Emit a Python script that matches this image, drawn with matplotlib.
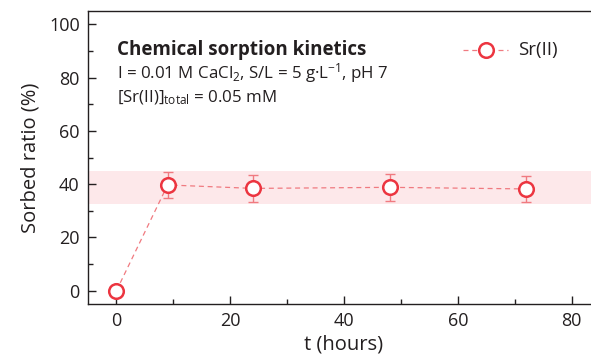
import matplotlib
matplotlib.use("Agg")
import matplotlib.pyplot as plt
from matplotlib.ticker import MultipleLocator

# data
t_hours = [0, 9, 24, 48, 72]
sorbed = [0.0, 39.7, 38.4, 38.8, 38.2]
sorbed_err = [0.0, 5.0, 5.0, 5.0, 5.0]
band_low, band_high = 32.7, 45.0

plt.rcParams['font.family'] = ['Open Sans', 'DejaVu Sans']
plt.rcParams['mathtext.fontset'] = 'custom'
plt.rcParams['mathtext.rm'] = 'Open Sans'
plt.rcParams['mathtext.it'] = 'Open Sans:italic'
plt.rcParams['mathtext.bf'] = 'Open Sans:bold'

red = '#ec3540'
light = '#f07a80'
ink = '#231f20'

fig = plt.figure(figsize=(5.91, 3.61), dpi=100)
ax = fig.add_axes([88 / 591, 1 - 304 / 361, 512 / 591, 293 / 361])

ax.axhspan(band_low, band_high, color='#fde8ea', lw=0, zorder=0)
ax.plot(t_hours, sorbed, ls=(0, (4, 3)), color=light, lw=0.9, zorder=2)
ax.errorbar(t_hours, sorbed, yerr=sorbed_err, fmt='none', ecolor=light,
            elinewidth=1.0, capsize=3.5, capthick=1.0, zorder=2)
ax.plot(t_hours, sorbed, 'o', mfc='white', mec=red, mew=1.8, ms=10.5, zorder=3)

# legend drawn by hand as in the original
ax.plot([60.9, 68.8], [90.3, 90.3], ls=(0, (4, 3)), color=light, lw=0.9)
ax.plot([64.9], [90.3], 'o', mfc='white', mec=red, mew=1.8, ms=10.5)
ax.text(70.6, 90.3, 'Sr(II)', fontsize=13.5, va='center', ha='left', color=ink)

ax.text(0.1, 88.4, 'Chemical sorption kinetics', fontsize=13.5, fontweight='bold',
        color=ink, va='baseline')
ax.text(0.1, 79.8, r'I = 0.01 M CaCl$_2$, S/L = 5 g·L$^{-1}$, pH 7',
        fontsize=12.2, color=ink, va='baseline')
ax.text(0.1, 70.8, r'[Sr(II)]$_{\mathregular{total}}$ = 0.05 mM',
        fontsize=12.2, color=ink, va='baseline')

ax.set_xlim(-5, 85)
ax.set_ylim(-5, 105)
ax.xaxis.set_major_locator(MultipleLocator(20))
ax.xaxis.set_minor_locator(MultipleLocator(10))
ax.yaxis.set_major_locator(MultipleLocator(20))
ax.yaxis.set_minor_locator(MultipleLocator(10))
ax.tick_params(which='both', direction='in', top=False, right=False,
               labelsize=13, colors=ink, width=1.0)
ax.tick_params(which='major', length=6, pad=6)
ax.tick_params(which='minor', length=3.5)
ax.spines['right'].set_visible(False)
for s in ax.spines.values():
    s.set_linewidth(1.0)
    s.set_color(ink)

ax.set_xlabel('t (hours)', fontsize=14.5, color=ink, labelpad=3)
ax.set_ylabel('Sorbed ratio (%)', fontsize=14.5, color=ink, labelpad=6)

fig.savefig('out.png', dpi=100)
